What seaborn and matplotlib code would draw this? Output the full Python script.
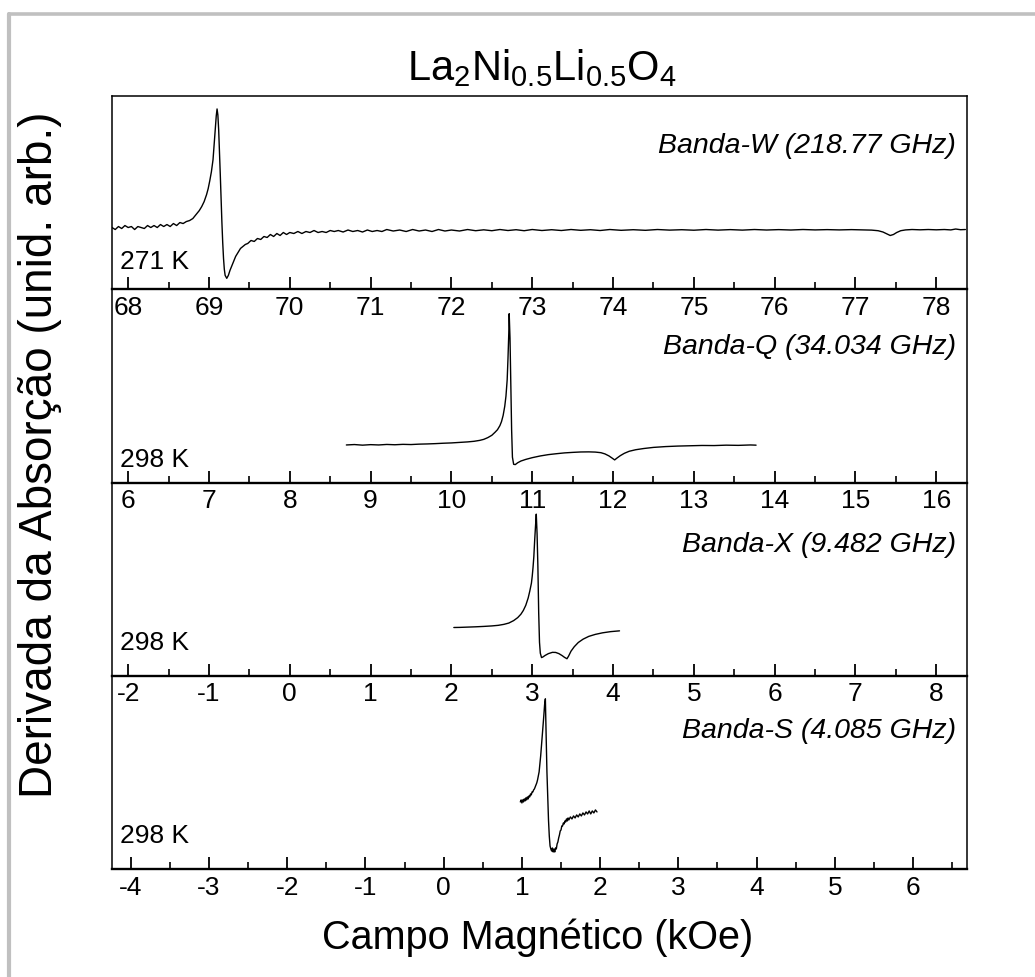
import matplotlib
matplotlib.use("Agg")
import matplotlib.pyplot as plt
import seaborn as sns
import pandas as pd
from matplotlib import font_manager as fm
from matplotlib.lines import Line2D
from matplotlib.ticker import MultipleLocator

# ---------------- data ----------------
title = r"La$_2$Ni$_{0.5}$Li$_{0.5}$O$_4$"
ylabel = "Derivada da Absorção (unid. arb.)"
xlabel = "Campo Magnético (kOe)"

band_labels = ["Banda-W (218.77 GHz)", "Banda-Q (34.034 GHz)",
               "Banda-X (9.482 GHz)", "Banda-S (4.085 GHz)"]
temp_labels = ["271 K", "298 K", "298 K", "298 K"]
x_ranges = [(67.80, 78.38), (5.80, 16.38), (-2.20, 8.38), (-4.24, 6.69)]
y_ranges = [(-0.60, 1.34), (-0.37, 1.53), (-0.49, 1.47), (-0.67, 1.26)]

w_field = [67.80, 67.84, 67.88, 67.92, 67.96, 68.00, 68.04, 68.08, 68.12, 68.16,
           68.20, 68.24, 68.28, 68.32, 68.36, 68.40, 68.44, 68.48, 68.52, 68.56,
           68.60, 68.64, 68.68, 68.72, 68.76, 68.80, 68.84, 68.88, 68.91, 68.94,
           68.97, 68.99, 69.01, 69.03, 69.05, 69.06, 69.07, 69.08, 69.09, 69.10,
           69.11, 69.12, 69.13, 69.14, 69.15, 69.16, 69.17, 69.18, 69.19, 69.20,
           69.22, 69.24, 69.26, 69.28, 69.30, 69.33, 69.36, 69.39, 69.42, 69.45,
           69.48, 69.52, 69.56, 69.60, 69.64, 69.68, 69.72, 69.76, 69.80, 69.84,
           69.88, 69.92, 69.96, 70.00, 70.05, 70.10, 70.15, 70.20, 70.25, 70.30,
           70.35, 70.40, 70.45, 70.50, 70.55, 70.60, 70.66, 70.72, 70.78, 70.84,
           70.90, 70.96, 71.02, 71.08, 71.14, 71.20, 71.28, 71.36, 71.44, 71.52,
           71.60, 71.68, 71.76, 71.84, 71.92, 72.00, 72.10, 72.20, 72.30, 72.40,
           72.50, 72.60, 72.70, 72.80, 72.90, 73.00, 73.12, 73.24, 73.36, 73.48,
           73.60, 73.72, 73.84, 73.96, 74.10, 74.25, 74.40, 74.55, 74.70, 74.85,
           75.00, 75.15, 75.30, 75.45, 75.60, 75.75, 75.90, 76.05, 76.20, 76.35,
           76.50, 76.65, 76.80, 76.95, 77.10, 77.20, 77.28, 77.34, 77.39, 77.43,
           77.47, 77.51, 77.56, 77.62, 77.70, 77.80, 77.90, 78.00, 78.10, 78.18,
           78.24, 78.30, 78.36]
w_signal = [0.02, 0.00, 0.03, 0.01, 0.04, 0.02, 0.03, 0.00, 0.03, 0.02,
            0.01, 0.04, 0.02, 0.04, 0.02, 0.05, 0.03, 0.05, 0.03, 0.06,
            0.04, 0.07, 0.06, 0.08, 0.09, 0.11, 0.15, 0.19, 0.23, 0.28,
            0.35, 0.41, 0.49, 0.58, 0.70, 0.81, 0.92, 1.04, 1.14, 1.21,
            1.15, 1.00, 0.78, 0.55, 0.30, 0.07, -0.13, -0.29, -0.40, -0.46,
            -0.49, -0.46, -0.41, -0.37, -0.33, -0.27, -0.23, -0.19, -0.17, -0.15,
            -0.14, -0.11, -0.12, -0.09, -0.10, -0.07, -0.08, -0.05, -0.07, -0.04,
            -0.06, -0.03, -0.05, -0.03, -0.04, -0.02, -0.04, -0.02, -0.03, -0.01,
            -0.03, -0.02, -0.03, -0.01, -0.02, -0.01, -0.025, -0.005, -0.02, -0.01,
            -0.025, -0.005, -0.02, -0.01, -0.02, 0.00, -0.015, -0.005, -0.02, 0.00,
            -0.015, -0.005, -0.02, 0.00, -0.015, -0.005, -0.015, 0.00, -0.012, -0.003,
            -0.012, 0.00, -0.01, -0.002, -0.012, 0.00, -0.01, -0.002, -0.01, 0.00,
            -0.008, -0.002, -0.01, 0.00, -0.008, -0.002, -0.008, 0.00, -0.006, -0.002,
            -0.007, 0.00, -0.006, -0.001, -0.006, 0.00, -0.005, -0.001, -0.005, 0.00,
            -0.004, -0.001, -0.004, -0.001, -0.004, -0.006, -0.012, -0.025, -0.045, -0.060,
            -0.050, -0.030, -0.012, -0.004, 0.00, -0.003, 0.00, -0.003, 0.00, -0.004,
            0.005, -0.002, 0.00]

q_field = [8.70, 8.80, 8.90, 9.00, 9.10, 9.20, 9.30, 9.40, 9.50, 9.60,
           9.70, 9.80, 9.90, 10.00, 10.10, 10.20, 10.28, 10.35, 10.40, 10.45,
           10.50, 10.54, 10.57, 10.60, 10.62, 10.64, 10.66, 10.675, 10.69, 10.70,
           10.71, 10.715, 10.725, 10.735, 10.745, 10.755, 10.77, 10.79, 10.82, 10.86,
           10.92, 11.00, 11.10, 11.20, 11.30, 11.40, 11.50, 11.60, 11.70, 11.78,
           11.85, 11.90, 11.95, 11.99, 12.02, 12.05, 12.09, 12.14, 12.20, 12.28,
           12.38, 12.50, 12.65, 12.80, 12.95, 13.10, 13.25, 13.40, 13.55, 13.70,
           13.77]
q_signal = [0.000, 0.004, -0.002, 0.003, 0.000, 0.005, 0.002, 0.006, 0.004, 0.008,
            0.010, 0.013, 0.017, 0.020, 0.025, 0.030, 0.036, 0.045, 0.055, 0.072,
            0.095, 0.125, 0.150, 0.190, 0.230, 0.290, 0.380, 0.480, 0.640, 0.850,
            1.100, 1.290, 1.050, 0.600, 0.150, -0.120, -0.190, -0.193, -0.175, -0.158,
            -0.142, -0.125, -0.108, -0.095, -0.086, -0.078, -0.073, -0.069, -0.068, -0.070,
            -0.076, -0.088, -0.108, -0.130, -0.147, -0.128, -0.105, -0.082, -0.062, -0.047,
            -0.035, -0.024, -0.016, -0.011, -0.008, -0.005, -0.006, -0.002, -0.004, 0.000,
            -0.002]

x_field = [2.03, 2.10, 2.20, 2.30, 2.40, 2.50, 2.58, 2.65, 2.71, 2.77,
           2.82, 2.86, 2.89, 2.92, 2.95, 2.97, 2.99, 3.00, 3.01, 3.02,
           3.03, 3.04, 3.05, 3.06, 3.07, 3.08, 3.09, 3.10, 3.115, 3.13,
           3.16, 3.20, 3.25, 3.29, 3.33, 3.37, 3.40, 3.43, 3.45, 3.48,
           3.52, 3.57, 3.63, 3.70, 3.78, 3.87, 3.97, 4.08]
x_signal = [0.000, 0.001, 0.004, 0.007, 0.011, 0.016, 0.022, 0.032, 0.045, 0.070,
            0.100, 0.135, 0.173, 0.225, 0.300, 0.370, 0.450, 0.520, 0.610, 0.720,
            0.880, 1.020, 1.150, 0.950, 0.620, 0.150, -0.150, -0.260, -0.305, -0.300,
            -0.283, -0.265, -0.252, -0.253, -0.265, -0.285, -0.303, -0.317, -0.290, -0.240,
            -0.195, -0.152, -0.118, -0.090, -0.070, -0.054, -0.042, -0.034]

s_field = [0.98, 0.99, 1.00, 1.01, 1.02, 1.03, 1.04, 1.05, 1.06, 1.07,
           1.08, 1.09, 1.10, 1.11, 1.12, 1.13, 1.14, 1.15, 1.16, 1.17,
           1.18, 1.19, 1.20, 1.21, 1.22, 1.23, 1.24, 1.25, 1.26, 1.27,
           1.28, 1.29, 1.30, 1.31, 1.32, 1.33, 1.34, 1.35, 1.36, 1.37,
           1.38, 1.39, 1.40, 1.41, 1.42, 1.43, 1.44, 1.45, 1.46, 1.47,
           1.48, 1.49, 1.50, 1.51, 1.52, 1.53, 1.54, 1.55, 1.56, 1.57,
           1.58, 1.59, 1.60, 1.62, 1.64, 1.66, 1.68, 1.70, 1.72, 1.74,
           1.76, 1.78, 1.80, 1.82, 1.84, 1.86, 1.88, 1.90, 1.92, 1.94,
           1.96]
s_signal = [0.00, 0.02, -0.01, 0.02, 0.00, 0.03, 0.01, 0.04, 0.02, 0.05,
            0.03, 0.06, 0.05, 0.08, 0.07, 0.10, 0.10, 0.12, 0.13, 0.15,
            0.17, 0.19, 0.22, 0.26, 0.30, 0.38, 0.46, 0.56, 0.66, 0.76,
            0.86, 0.97, 1.03, 0.66, 0.30, 0.06, -0.18, -0.34, -0.44, -0.47,
            -0.49, -0.46, -0.50, -0.47, -0.50, -0.46, -0.47, -0.42, -0.40, -0.36,
            -0.33, -0.29, -0.28, -0.24, -0.24, -0.21, -0.22, -0.19, -0.20, -0.17,
            -0.19, -0.16, -0.18, -0.15, -0.17, -0.14, -0.16, -0.13, -0.15, -0.12,
            -0.14, -0.11, -0.13, -0.10, -0.12, -0.09, -0.12, -0.09, -0.11, -0.08,
            -0.10]

spectra = [(w_field, w_signal), (q_field, q_signal),
           (x_field, x_signal), (s_field, s_signal)]

# ---------------- style ----------------
sns.set_theme(style="white")
available = {f.name for f in fm.fontManager.ttflist}
font = "Liberation Sans Narrow" if "Liberation Sans Narrow" in available else "Liberation Sans"
plt.rcParams["font.family"] = [font, "DejaVu Sans"]
plt.rcParams["mathtext.fontset"] = "custom"
plt.rcParams["mathtext.rm"] = font
plt.rcParams["mathtext.it"] = font + ":italic"
plt.rcParams["mathtext.default"] = "regular"
plt.rcParams["axes.unicode_minus"] = False
plt.rcParams["text.color"] = "black"
plt.rcParams["xtick.color"] = "black"
plt.rcParams["xtick.labelcolor"] = "black"

W, H = 1035, 978
fig = plt.figure(figsize=(W / 100, H / 100), dpi=100)
fig.patch.set_facecolor("white")

# light grey frame along top and left edges
fig.add_artist(Line2D([9 / W, 1.01], [1 - 14.5 / H, 1 - 14.5 / H],
                      transform=fig.transFigure, color="#c0c0c0", lw=2.6))
fig.add_artist(Line2D([9 / W, 9 / W], [-0.01, 1 - 14.5 / H],
                      transform=fig.transFigure, color="#c0c0c0", lw=3.0))

left_px, right_px = 112, 967
edges_px = [97, 290.3, 483.6, 676.8, 870]
temp_y_px = [262, 460, 643, 836]
band_y_px = [146, 347, 545, 731]

for i, ((xf, ys), (x0, x1), (y0, y1)) in enumerate(zip(spectra, x_ranges, y_ranges)):
    top, bot = edges_px[i], edges_px[i + 1]
    ax = fig.add_axes([left_px / W, 1 - bot / H, (right_px - left_px) / W, (bot - top) / H])
    ax.set_facecolor("none")
    ax.set_zorder(10 - i)
    df = pd.DataFrame({"campo": xf, "sinal": ys})
    sns.lineplot(data=df, x="campo", y="sinal", ax=ax, color="black",
                 lw=1.0, estimator=None, sort=False)
    ax.set_xlim(x0, x1)
    ax.set_ylim(y0, y1)
    ax.set_xlabel("")
    ax.set_ylabel("")
    ax.set_yticks([])
    ax.xaxis.set_major_locator(MultipleLocator(1))
    ax.xaxis.set_minor_locator(MultipleLocator(0.5))
    ax.tick_params(axis="x", which="major", direction="in", length=9, width=1.3,
                   color="black", labelcolor="black", labelsize=19, pad=4,
                   bottom=True, top=False)
    ax.tick_params(axis="x", which="minor", direction="in", length=5, width=1.2,
                   color="black", bottom=True, top=False)
    for sp in ax.spines.values():
        sp.set_visible(True)
        sp.set_color("black")
        sp.set_linewidth(1.1)
    ax.spines["bottom"].set_linewidth(1.7)
    h = bot - top
    ax.text(8 / (right_px - left_px), 1 - (temp_y_px[i] - top) / h, temp_labels[i],
            transform=ax.transAxes, fontsize=19, ha="left", va="center", color="black")
    ax.text(0.987, 1 - (band_y_px[i] - top) / h, band_labels[i],
            transform=ax.transAxes, fontsize=20.5, ha="right", va="center",
            style="italic", color="black")

fig.text(542 / W, 1 - 80 / H, title, ha="center", va="baseline", fontsize=30,
         color="black")
fig.text(40 / W, 1 - 455 / H, ylabel, ha="center", va="center", rotation=90,
         fontsize=33, color="black")
fig.text(538 / W, 1 - 938 / H, xlabel, ha="center", va="center", fontsize=28.5,
         color="black")

fig.savefig("out.png", dpi=100)
